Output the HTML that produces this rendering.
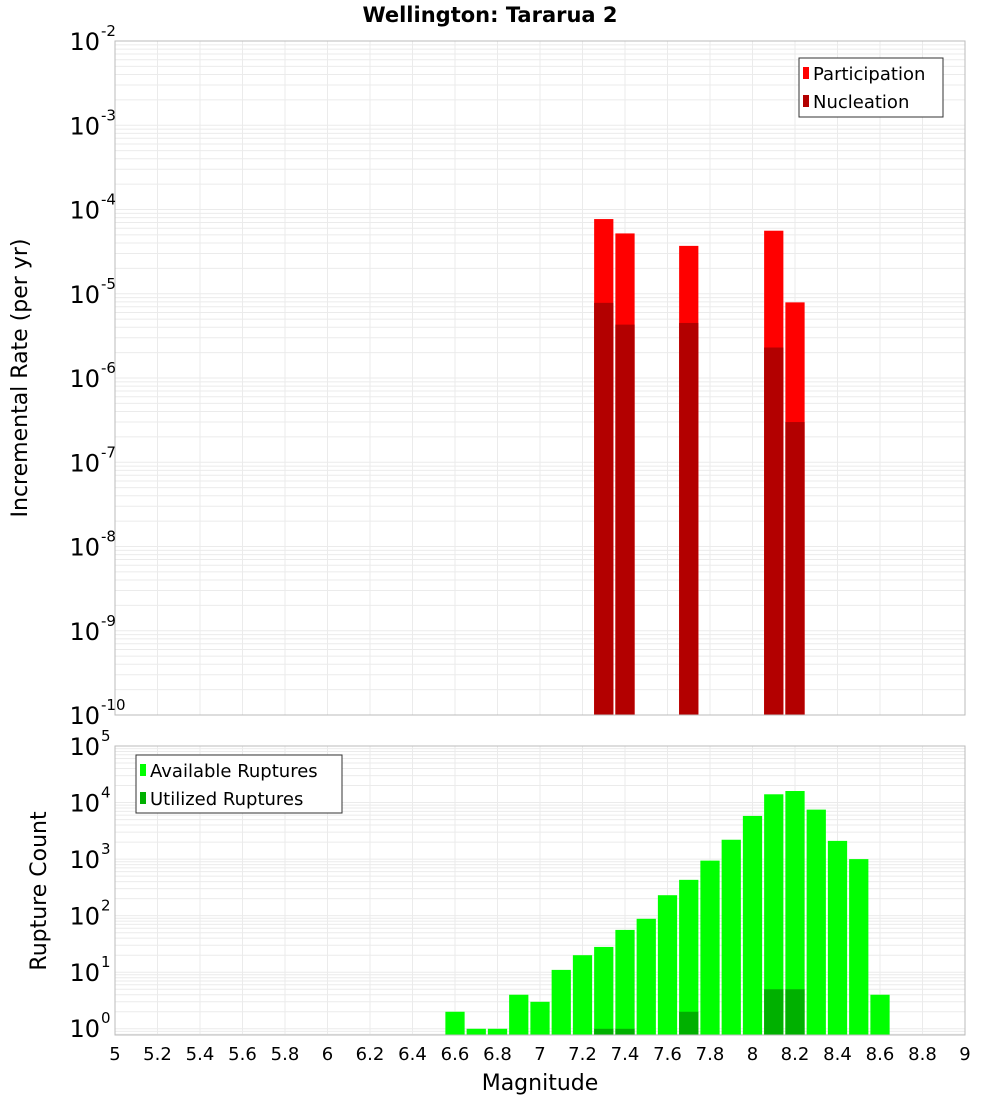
<!DOCTYPE html>
<html><head><meta charset="utf-8"><style>
body{margin:0;background:#fff;}
svg text{font-family:"DejaVu Sans","Liberation Sans",sans-serif;fill:#000;}
</style></head><body>
<svg id="chart" width="1000" height="1100" xmlns="http://www.w3.org/2000/svg">
<rect width="1000" height="1100" fill="#fff"/>
<text x="490" y="22" font-size="21" font-weight="bold" text-anchor="middle">Wellington: Tararua 2</text>
<g id="top"></g>
<g id="bot"></g>
<text transform="translate(27,378) rotate(-90)" font-size="22" text-anchor="middle">Incremental Rate (per yr)</text>
<text transform="translate(46,891) rotate(-90)" font-size="22" text-anchor="middle">Rupture Count</text>
<text x="540" y="1090" font-size="22" text-anchor="middle">Magnitude</text>
</svg>
<script>
const mags = [7.3, 7.4, 7.7, 8.1, 8.2];
const participation = [7.7e-5, 5.2e-5, 3.7e-5, 5.6e-5, 7.9e-6];
const nucleation = [7.8e-6, 4.3e-6, 4.5e-6, 2.3e-6, 3.0e-7];
const countMags = [6.6,6.7,6.8,6.9,7.0,7.1,7.2,7.3,7.4,7.5,7.6,7.7,7.8,7.9,8.0,8.1,8.2,8.3,8.4,8.5,8.6];
const available = [2,1,1,4,3,11,20,28,56,88,230,430,940,2200,5800,14000,16000,7500,2100,1000,4];
const utilMags = [7.3, 7.4, 7.7, 8.1, 8.2];
const utilized = [1, 1, 2, 5, 5];
const xTicks = [5,5.2,5.4,5.6,5.8,6,6.2,6.4,6.6,6.8,7,7.2,7.4,7.6,7.8,8,8.2,8.4,8.6,8.8,9];
const topExps = [-2,-3,-4,-5,-6,-7,-8,-9,-10];
const botExps = [0,1,2,3,4,5];

const NS='http://www.w3.org/2000/svg';
function mk(parent,tag,attrs){const e=document.createElementNS(NS,tag);for(const k in attrs)e.setAttribute(k,attrs[k]);parent.appendChild(e);return e;}
const L=115,R=965;
const xs=m=>L+(m-5)/4*(R-L);
function panel(g,top,bottom,lmin,lmax,name){
  const ys=v=>bottom-(Math.log10(v)-lmin)/(lmax-lmin)*(bottom-top);
  mk(g,'rect',{x:L,y:top,width:R-L,height:bottom-top,fill:'#fff'});
  for(let d=Math.floor(lmin);d<Math.ceil(lmax);d++){
    for(let k=1;k<10;k++){const lv=d+Math.log10(k);if(lv<lmin||lv>lmax)continue;const y=ys(Math.pow(10,lv));
      const ln=mk(g,'line',{x1:L,x2:R,y1:y,y2:y,stroke:'#ebebeb','stroke-width':1});
      
      }
  }
  xTicks.forEach(t=>{const x=xs(t);const ln=mk(g,'line',{x1:x,x2:x,y1:top,y2:bottom,stroke:'#ebebeb','stroke-width':1});
    
    });
  return ys;
}
function bar(g,m,v,ys,bottom,color,nm){
  const x0=xs(m-0.05)+1,x1=xs(m+0.05)-1;const y=ys(v);
  const r=mk(g,'rect',{x:x0,y:y,width:x1-x0,height:bottom-y,fill:color});
  
  
}
function yLabel(g,y,e,name){
  const t=mk(g,'text',{x:100,y:y+9,'font-size':24,'text-anchor':'end'});t.textContent='10';
  
  
  const s=mk(g,'text',{x:101,y:y-5,'font-size':15});s.textContent=String(e);
  
  
}
// top panel
const gt=document.getElementById('top');
const T1=41,B1=715;
const ysT=panel(gt,T1,B1,-10,-2,'top');
mags.forEach((m,i)=>bar(gt,m,participation[i],ysT,B1,'#ff0000','participation-bar'));
mags.forEach((m,i)=>bar(gt,m,nucleation[i],ysT,B1,'#b30000','nucleation-bar'));
mk(gt,'rect',{x:L,y:T1,width:R-L,height:B1-T1,fill:'none',stroke:'#bbb'});
topExps.forEach(e=>yLabel(gt,ysT(Math.pow(10,e)),e,'y-tick-top'));
// legend top
const lg=mk(gt,'g',{});


mk(lg,'rect',{x:799,y:58,width:144,height:59,fill:'#fff',stroke:'#333'});
mk(lg,'rect',{x:803,y:67,width:6,height:12,fill:'#ff0000'});
mk(lg,'rect',{x:803,y:95,width:6,height:12,fill:'#b30000'});
let t=mk(lg,'text',{x:813,y:80,'font-size':18});t.textContent='Participation';
t=mk(lg,'text',{x:813,y:108,'font-size':18});t.textContent='Nucleation';
// bottom panel
const gb=document.getElementById('bot');
const T2=746,B2=1035;
const lmin2=-0.11,lmax2=5;
const ysB=panel(gb,T2,B2,lmin2,lmax2,'bottom');
countMags.forEach((m,i)=>bar(gb,m,available[i],ysB,B2,'#00ff00','available-bar'));
utilMags.forEach((m,i)=>bar(gb,m,utilized[i],ysB,B2,'#00b000','utilized-bar'));
mk(gb,'rect',{x:L,y:T2,width:R-L,height:B2-T2,fill:'none',stroke:'#bbb'});
botExps.forEach(e=>yLabel(gb,Math.min(ysB(Math.pow(10,e)),1028),e,'y-tick-bottom'));
const lb=mk(gb,'g',{});


mk(lb,'rect',{x:136,y:755,width:206,height:58,fill:'#fff',stroke:'#333'});
mk(lb,'rect',{x:140,y:764,width:6,height:12,fill:'#00ff00'});
mk(lb,'rect',{x:140,y:792,width:6,height:12,fill:'#00b000'});
t=mk(lb,'text',{x:150,y:777,'font-size':18});t.textContent='Available Ruptures';
t=mk(lb,'text',{x:150,y:805,'font-size':18});t.textContent='Utilized Ruptures';
xTicks.forEach(v=>{const tx=mk(gb,'text',{x:xs(v),y:1060,'font-size':18,'text-anchor':'middle'});tx.textContent=String(v);
  
  });
</script>
</body></html>
